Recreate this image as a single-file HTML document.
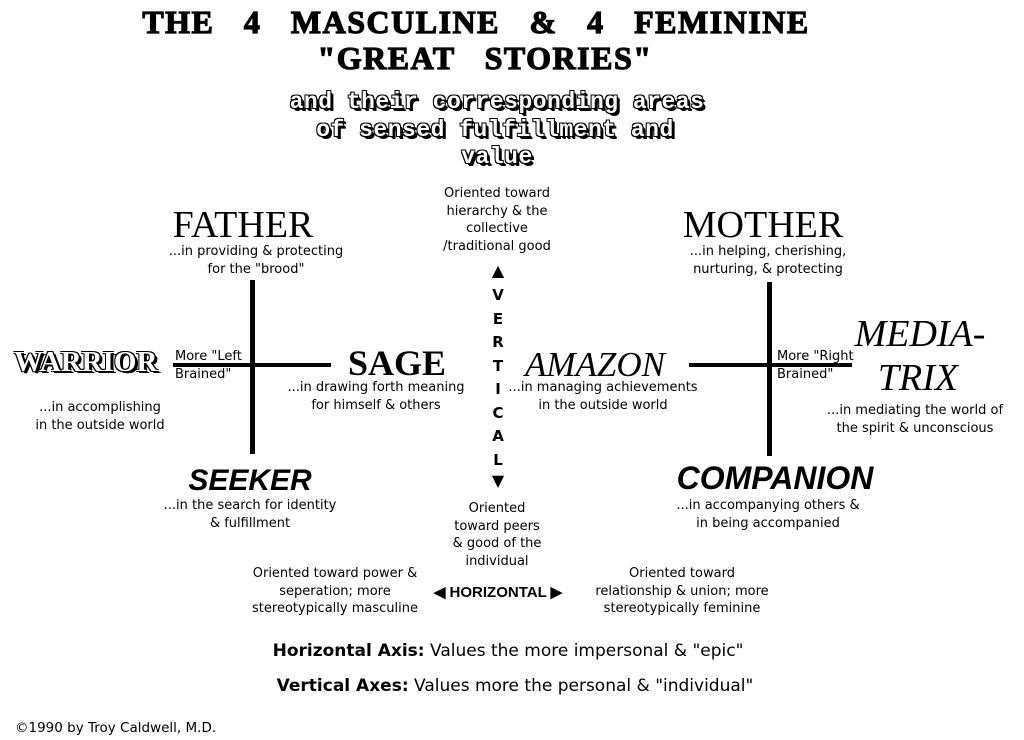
<!DOCTYPE html><html><head><style>
body{margin:0;width:1024px;height:740px;background:#fff;position:relative;overflow:hidden;font-family:"DejaVu Sans","Liberation Sans",sans-serif;color:#000}
.c{position:absolute;transform:translateX(-50%);text-align:center;white-space:nowrap}
.l{position:absolute;white-space:nowrap}
.s{font-size:13px;line-height:17.5px}
.t{font-family:"Liberation Serif",serif;font-weight:900;font-size:32px;letter-spacing:1.5px;word-spacing:20px;-webkit-text-stroke:1.2px #000}
.o{font-family:"Liberation Mono",monospace;font-weight:bold;font-size:23px;color:#fff;letter-spacing:0.5px;line-height:27px;text-shadow:-1px -1px 0 #000,1px -1px 0 #000,-1px 1px 0 #000,1px 1px 0 #000,2px 2px 0 #000,3px 3px 0 #000}
.bar{position:absolute;background:#000}
.big{font-family:"Liberation Serif",serif;font-size:38px;line-height:38px}
.it{font-family:"Liberation Serif",serif;font-style:italic;font-size:35px;line-height:35px}
.sk{font-family:"Liberation Sans",sans-serif;font-style:italic;font-weight:bold;font-size:30px;line-height:30px}
.v{position:absolute;left:490px;width:16px;text-align:center;font-weight:bold;font-size:15px}
</style></head><body>
<div class="c t" style="left:476px;top:4px">THE 4 MASCULINE &amp; 4 FEMININE</div>
<div class="c t" style="left:485px;top:40px">"GREAT STORIES"</div>
<div class="c o" style="left:497px;top:89px">and their corresponding areas</div>
<div class="c o" style="left:495px;top:117px">of sensed fulfillment and</div>
<div class="c o" style="left:497px;top:144px">value</div>

<div class="c s" style="left:497px;top:185px">Oriented toward<br>hierarchy &amp; the<br>collective<br>/traditional good</div>
<div class="v" style="top:261px;font-size:16px">▲</div>
<div class="v" style="top:286px">V</div><div class="v" style="top:310px">E</div><div class="v" style="top:333px">R</div><div class="v" style="top:357px">T</div><div class="v" style="top:380px">I</div><div class="v" style="top:404px">C</div><div class="v" style="top:427px">A</div><div class="v" style="top:451px">L</div>
<div class="v" style="top:471px;font-size:16px">▼</div>
<div class="c s" style="left:497px;top:500px">Oriented<br>toward peers<br>&amp; good of the<br>individual</div>

<div class="bar" style="left:250px;top:280px;width:5px;height:174px"></div>
<div class="bar" style="left:173px;top:363px;width:158px;height:4px"></div>
<div class="bar" style="left:767px;top:282px;width:5px;height:174px"></div>
<div class="bar" style="left:689px;top:363px;width:163px;height:4px"></div>

<div class="c big" style="left:243px;top:206px">FATHER</div>
<div class="c s" style="left:256px;top:243px">...in providing &amp; protecting<br>for the "brood"</div>
<div class="c big" style="left:763px;top:206px">MOTHER</div>
<div class="c s" style="left:768px;top:243px">...in helping, cherishing,<br>nurturing, &amp; protecting</div>

<div class="l" style="left:14px;top:346px;font-family:'Liberation Serif',serif;font-weight:bold;font-size:29px;color:#fff;text-shadow:-1px -1px 0 #000,1px -1px 0 #000,-1px 1px 0 #000,1px 1px 0 #000,2px 2px 0 #000,3px 2px 0 #000">WARRIOR</div>
<div class="l s" style="left:175px;top:348px">More "Left<br>Brained"</div>
<div class="c s" style="left:100px;top:399px">...in accomplishing<br>in the outside world</div>

<div class="c" style="left:397px;top:345px;font-family:'Liberation Serif',serif;font-weight:bold;font-size:36px;line-height:36px">SAGE</div>
<div class="c s" style="left:376px;top:379px">...in drawing forth meaning<br>for himself &amp; others</div>

<div class="c it" style="left:595px;top:347px">AMAZON</div>
<div class="c s" style="left:603px;top:379px">...in managing achievements<br>in the outside world</div>
<div class="l s" style="left:777px;top:348px">More "Right<br>Brained"</div>

<div class="c it" style="left:920px;top:317px;font-size:38px">MEDIA-</div>
<div class="c it" style="left:918px;top:361px;font-size:38px">TRIX</div>
<div class="c s" style="left:915px;top:402px">...in mediating the world of<br>the spirit &amp; unconscious</div>

<div class="c sk" style="left:250px;top:466px">SEEKER</div>
<div class="c s" style="left:250px;top:497px">...in the search for identity<br>&amp; fulfillment</div>
<div class="c sk" style="left:775px;top:462px;font-size:32px;line-height:32px">COMPANION</div>
<div class="c s" style="left:768px;top:497px">...in accompanying others &amp;<br>in being accompanied</div>

<div class="c s" style="left:335px;top:565px">Oriented toward power &amp;<br>seperation; more<br>stereotypically masculine</div>
<div class="c" style="left:498px;top:583px;font-family:'Liberation Sans',sans-serif;font-weight:bold;font-size:15px">◀ HORIZONTAL ▶</div>
<div class="c s" style="left:682px;top:565px">Oriented toward<br>relationship &amp; union; more<br>stereotypically feminine</div>

<div class="c" style="left:508px;top:641px;font-size:17px"><b>Horizontal Axis:</b> Values the more impersonal &amp; "epic"</div>
<div class="c" style="left:515px;top:676px;font-size:17px"><b>Vertical Axes:</b> Values more the personal &amp; "individual"</div>
<div class="l" style="left:15px;top:720px;font-size:13.5px">©1990 by Troy Caldwell, M.D.</div>
</body></html>
